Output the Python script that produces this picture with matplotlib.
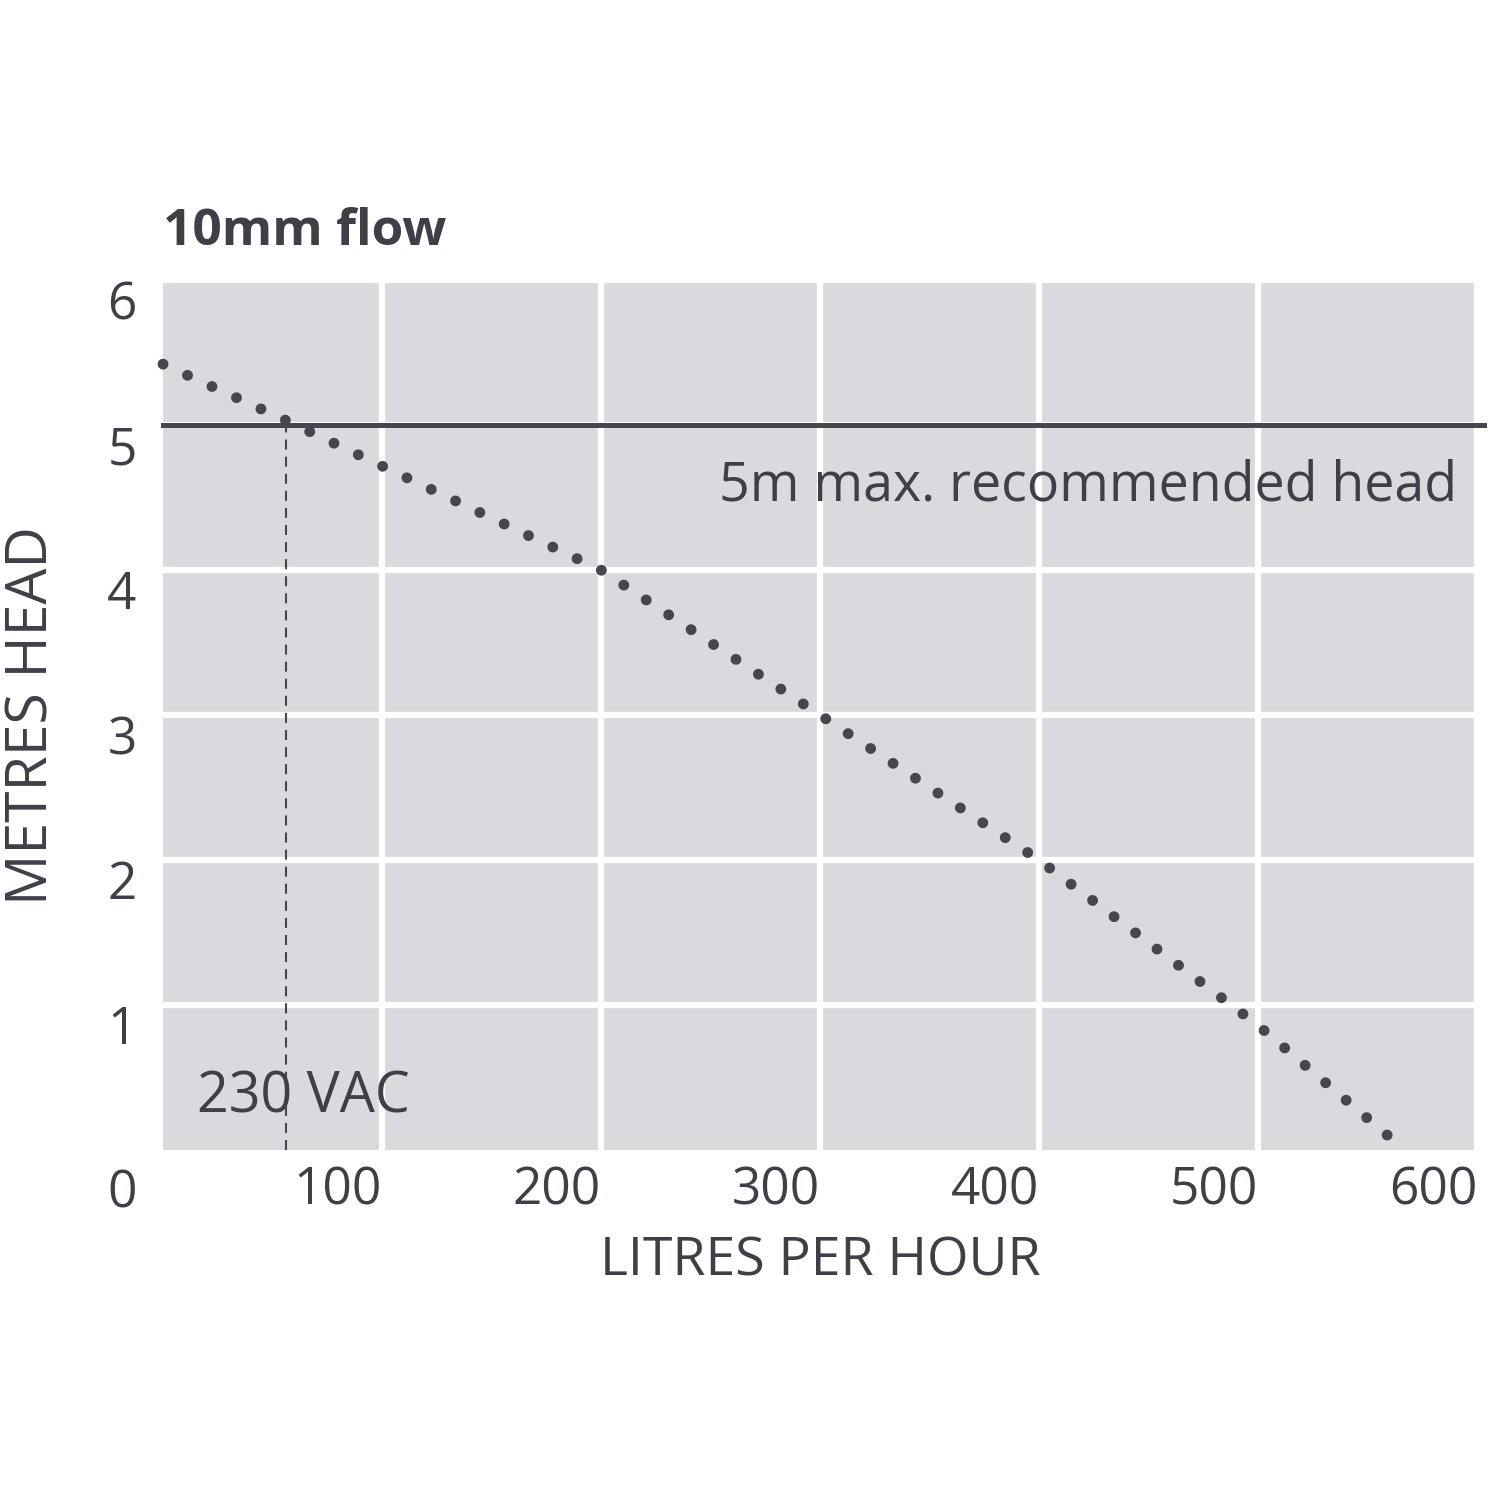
import numpy as np
import matplotlib
matplotlib.use("Agg")
import matplotlib.pyplot as plt

plt.rcParams['font.family'] = ['Open Sans', 'DejaVu Sans']

# Curva de la bomba
caudal_lph = [0, 55, 200, 300, 400, 500, 560]
altura_m = [5.42, 5.04, 4.0, 3.0, 2.0, 0.86, 0.09]

x_ticks = [100, 200, 300, 400, 500, 600]
y_ticks = [1, 2, 3, 4, 5, 6]
altura_max = 5
caudal_230vac = 56

texto = '#3e3f47'
linea = '#45464e'
fondo = '#d9d9de'

fig = plt.figure(figsize=(15, 15), dpi=100)
ax = fig.add_axes([163/1500, 1 - 1150/1500, 1314/1500, 870/1500])
ax.set_facecolor(fondo)
ax.set_xlim(0, 600)
ax.set_ylim(0, 6)

for s in ax.spines.values():
    s.set_visible(False)

ax.set_xticks(x_ticks)
ax.set_yticks(y_ticks)
ax.set_xticklabels([str(v) for v in x_ticks], ha='right')
ax.set_yticklabels([str(v) for v in y_ticks], va='top')
ax.tick_params(axis='both', length=0, labelsize=37, labelcolor=texto)
ax.tick_params(axis='x', pad=11)
ax.tick_params(axis='y', pad=19)
ax.grid(True, color='white', linewidth=4.5)
ax.set_axisbelow(True)

# Linea de altura maxima recomendada
ax.axhline(altura_max, xmin=0, xmax=1.005, color=linea, linewidth=3.6, clip_on=False, zorder=3)

# Linea vertical 230 VAC
ax.vlines(caudal_230vac, 0, np.interp(caudal_230vac, caudal_lph, altura_m),
          colors=linea, linewidth=1.5, linestyles=(0, (4.8, 3.4)), zorder=3)

# Curva punteada: ajusto el espaciado para que haya un punto en cada extremo
ancho_pt = 7.8
ancho_px = ancho_pt * fig.dpi / 72
pix = ax.transData.transform(np.column_stack([caudal_lph, altura_m]))
largo = np.sum(np.hypot(*np.diff(pix, axis=0).T)) - 3
n_puntos = round(largo / 27)
hueco = (largo / n_puntos) / ancho_px
ax.plot(caudal_lph, altura_m, color=linea, linewidth=ancho_pt,
        linestyle=(0, (0.01, hueco - 0.01)), dash_capstyle='round',
        clip_on=False, zorder=4)

ax.text(591, 4.48, '5m max. recommended head', fontsize=38.6, color=texto,
        ha='right', va='baseline')
ax.text(15.5, 0.26, '230 VAC', fontsize=40, color=texto, ha='left', va='baseline')

fig.text(163/1500, 1 - 245/1500, '10mm flow', fontsize=37, fontweight='bold',
         color=texto, ha='left', va='baseline')
fig.text(137/1500, 1 - 1207/1500, '0', fontsize=37, color=texto, ha='right', va='baseline')
fig.text(820/1500, 1 - 1262/1500, 'LITRES PER HOUR', fontsize=38.5, color=texto,
         ha='center', va='center')
fig.text(33/1500, 1 - 716/1500, 'METRES HEAD', fontsize=41, color=texto,
         ha='center', va='center', rotation=90)

fig.savefig('out.png', dpi=100, facecolor='white')
